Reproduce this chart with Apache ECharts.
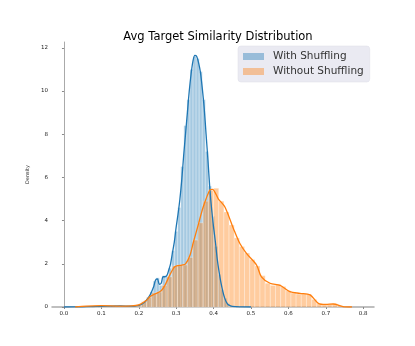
<!DOCTYPE html>
<html>
<head>
<meta charset="utf-8">
<script src="https://cdn.jsdelivr.net/npm/echarts@6/dist/echarts.min.js"></script>
<style>
  html, body { margin: 0; padding: 0; background: #fff; }
  #chart { width: 415px; height: 346px; }
</style>
</head>
<body>
<div id="chart"></div>
<script>
// histogram bins (start, width) and densities
var withStart = 0.05, withWidth = 0.0082;
var withHist = [0.02, 0, 0, 0.02, 0, 0.02, 0.03, 0.03, 0.05, 0.05,
    0.07, 0.05, 0.07, 0.05, 0.05, 0.03, 0.05, 0.05, 0.1, 0.15,
    0.3, 0.45, 0.7, 1.2, 1.35, 1.0, 1.45, 1.4, 1.8, 2.6,
    3.5, 4.6, 6.5, 8.4, 9.6, 11.0, 11.6, 11.5, 10.9, 9.6,
    7.2, 5.6, 4.2, 2.8, 1.5, 0.8, 0.4, 0.15, 0.05, 0.02];

var withoutStart = 0.055, withoutWidth = 0.0138;
var withoutHist = [0.03, 0.05, 0.05, 0.05, 0.04, 0.04, 0.03, 0.03, 0.05, 0.06,
    0.1, 0.25, 0.45, 0.65, 0.7, 1.0, 1.4, 1.9, 1.95, 1.95,
    2.3, 3.1, 3.9, 4.9, 5.4, 5.5, 4.9, 4.4, 3.8, 3.2,
    2.8, 2.5, 2.2, 1.9, 1.45, 1.1, 1.0, 1.05, 0.95, 0.75,
    0.65, 0.6, 0.62, 0.6, 0.35, 0.15, 0.12, 0.14, 0.15, 0.05];

// kde curves
var withKdeX = [0.0, 0.05, 0.1, 0.15, 0.18, 0.2, 0.21, 0.22, 0.23, 0.24, 0.245, 0.25, 0.255, 0.26,
    0.265, 0.27, 0.275, 0.28, 0.285, 0.29, 0.295, 0.3, 0.305, 0.31, 0.315, 0.32, 0.325,
    0.33, 0.335, 0.34, 0.345, 0.35, 0.355, 0.36, 0.365, 0.37, 0.375, 0.38, 0.385, 0.39,
    0.395, 0.4, 0.405, 0.41, 0.415, 0.42, 0.425, 0.43, 0.435, 0.44, 0.45, 0.5];
var withKdeY = [0, 0.01, 0.03, 0.05, 0.04, 0.08, 0.15, 0.3, 0.55, 0.95, 1.25, 1.3, 1.05, 1.1,
    1.4, 1.4, 1.45, 1.7, 2.0, 2.5, 3.0, 3.7, 4.3, 5.0, 5.9, 7.0, 8.0,
    9.0, 10.0, 10.8, 11.4, 11.65, 11.6, 11.3, 10.85, 10.1, 9.2, 8.0, 6.8, 5.5,
    4.5, 3.7, 3.0, 2.2, 1.6, 1.1, 0.7, 0.4, 0.2, 0.1, 0.03, 0];

var withoutKdeX = [0.03, 0.06, 0.1, 0.15, 0.18, 0.2, 0.22, 0.23, 0.243, 0.26, 0.27, 0.283, 0.297,
    0.315, 0.325, 0.337, 0.346, 0.359, 0.3725, 0.39, 0.397, 0.413, 0.43, 0.453, 0.47,
    0.488, 0.515, 0.528, 0.551, 0.578, 0.604, 0.631, 0.658, 0.68, 0.7, 0.72, 0.746, 0.77];
var withoutKdeY = [0, 0.04, 0.06, 0.04, 0.05, 0.1, 0.3, 0.48, 0.6, 0.75, 1.0, 1.48, 1.87,
    1.94, 2.0, 2.4, 3.0, 3.8, 4.64, 5.42, 5.45, 5.0, 4.64, 3.64, 2.95,
    2.48, 1.94, 1.4, 1.1, 1.0, 0.71, 0.63, 0.56, 0.17, 0.12, 0.14, 0.02, 0];

var xTicks = [0.0, 0.1, 0.2, 0.3, 0.4, 0.5, 0.6, 0.7, 0.8];
var yTicks = [0, 2, 4, 6, 8, 10, 12];

function bins(start, width, heights) {
    return heights.map(function (h, i) {
        return [start + i * width, start + (i + 1) * width, h];
    });
}
function pairs(xs, ys) {
    return xs.map(function (x, i) { return [x, ys[i]]; });
}
function renderBar(params, api) {
    var p0 = api.coord([api.value(0), api.value(2)]);
    var p1 = api.coord([api.value(1), 0]);
    return {
        type: 'rect',
        shape: { x: p0[0], y: p0[1], width: p1[0] - p0[0], height: p1[1] - p0[1] },
        style: { fill: api.visual('color'), stroke: 'rgba(255,255,255,0.6)', lineWidth: 0.5 }
    };
}

var blueBar = 'rgba(31,119,180,0.4)';
var orangeBar = 'rgba(255,127,14,0.4)';

var chart = echarts.init(document.getElementById('chart'), null, { renderer: 'canvas' });
var option = {
    animation: false,
    textStyle: { fontFamily: 'DejaVu Sans' },
    title: {
        text: 'Avg Target Similarity Distribution',
        left: 213, textAlign: 'center', top: 26,
        textStyle: { fontSize: 11.5, fontWeight: 'normal', color: '#000', fontFamily: 'DejaVu Sans' }
    },
    legend: {
        orient: 'vertical',
        left: 238, top: 46,
        padding: [5, 6, 5, 5],
        itemGap: 4,
        backgroundColor: '#eaeaf2',
        borderRadius: 3,
        borderColor: '#dcdce6',
        borderWidth: 0.5,
        icon: 'rect',
        itemWidth: 21, itemHeight: 7,
        textStyle: { fontSize: 10.5, color: '#333', fontFamily: 'DejaVu Sans', padding: [0, 0, 0, 4] },
        data: [
            { name: 'With Shuffling', itemStyle: { color: blueBar } },
            { name: 'Without Shuffling', itemStyle: { color: orangeBar } }
        ]
    },
    grid: { left: 52, right: 41, top: 42, bottom: 39 },
    xAxis: {
        type: 'value', min: -0.032, max: 0.829,
        axisLine: { show: true, lineStyle: { color: '#aaa', width: 1.5 } },
        axisTick: { show: true, length: 2, customValues: xTicks, lineStyle: { color: '#888' } },
        axisLabel: { customValues: xTicks, fontSize: 5.5, color: '#222', margin: 4,
            formatter: function (v) { return v.toFixed(1); } },
        splitLine: { show: false }
    },
    yAxis: {
        type: 'value', min: 0, max: 12.27,
        name: 'Density', nameLocation: 'middle', nameGap: 13,
        nameTextStyle: { fontSize: 5, color: '#222' },
        axisLine: { show: true, lineStyle: { color: '#aaa', width: 1 } },
        axisTick: { show: true, length: 2, customValues: yTicks, lineStyle: { color: '#888' } },
        axisLabel: { customValues: yTicks, fontSize: 5.5, color: '#222', margin: 4 },
        splitLine: { show: false }
    },
    series: [
        {
            name: 'With Shuffling', type: 'custom', renderItem: renderBar,
            itemStyle: { color: blueBar }, encode: { x: [0, 1], y: 2 },
            data: bins(withStart, withWidth, withHist), z: 1
        },
        {
            name: 'Without Shuffling', type: 'custom', renderItem: renderBar,
            itemStyle: { color: orangeBar }, encode: { x: [0, 1], y: 2 },
            data: bins(withoutStart, withoutWidth, withoutHist), z: 2
        },
        {
            name: 'kde1', type: 'line', smooth: 0.3, showSymbol: false,
            lineStyle: { color: '#1f77b4', width: 1.3 }, itemStyle: { color: '#1f77b4' },
            data: pairs(withKdeX, withKdeY), z: 3
        },
        {
            name: 'kde2', type: 'line', smooth: 0.3, showSymbol: false,
            lineStyle: { color: '#ff7f0e', width: 1.3 }, itemStyle: { color: '#ff7f0e' },
            data: pairs(withoutKdeX, withoutKdeY), z: 4
        }
    ]
};
chart.setOption(option);
</script>
</body>
</html>
